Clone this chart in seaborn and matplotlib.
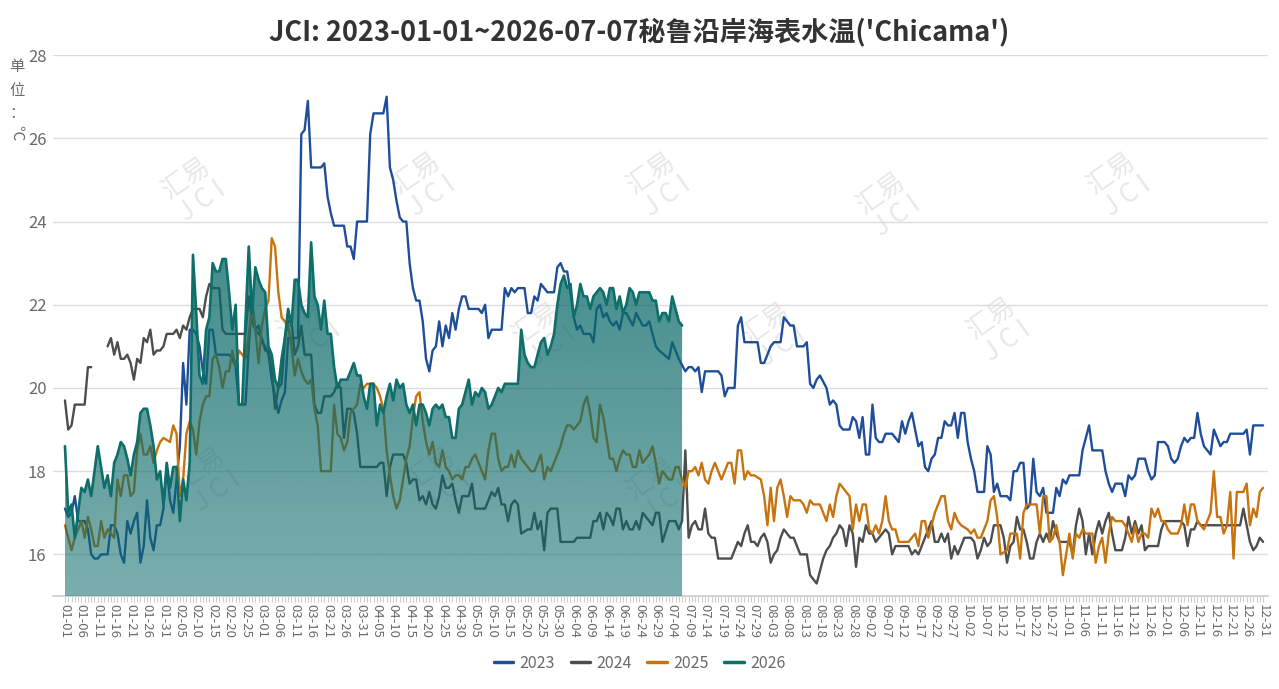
import numpy as np
import pandas as pd
import matplotlib
matplotlib.use("Agg")
import matplotlib.pyplot as plt
import seaborn as sns
from matplotlib.lines import Line2D

# ---------------- data ----------------
# x categories: month-day labels of a 366-day calendar (as in the source chart)
categories = pd.date_range("2024-01-01", "2024-12-31").strftime("%m-%d").tolist()
title = "JCI: 2023-01-01~2026-07-07秘鲁沿岸海表水温('Chicama')"
y_ticks = [16, 18, 20, 22, 24, 26, 28]
series_names = ["2023", "2024", "2025", "2026"]
series_colors = ["#1f4e99", "#4d4d4d", "#c7740e", "#0d6e6a"]

# (day on a 0..364 scale, value)
s2023 = [(0,17.1),(1,16.9),(2,17.0),(3,17.4),(4,16.8),(6,16.8),(7,16.6),(8,16.0),(9,15.9),(10,15.9),
 (11,16.0),(13,16.0),(14,16.7),(15,16.7),(16,16.5),(17,16.0),(18,15.8),(19,16.8),(20,16.5),(21,16.8),
 (22,17.0),(23,15.8),(24,16.2),(25,17.3),(26,16.4),(27,16.1),(28,16.7),(29,16.7),(30,17.1),(31,18.1),
 (32,17.3),(33,17.0),(34,17.8),(35,18.6),(36,20.6),(37,19.6),(38,21.4),(39,21.4),(40,21.3),(41,21.0),
 (42,20.4),(43,20.1),(44,21.4),(45,21.4),(46,20.8),(50,20.8),(51,20.7),(52,20.5),(53,19.6),(55,19.6),
 (56,21.0),(57,22.1),(58,21.4),(59,21.5),(60,21.1),(61,21.0),(62,20.8),(63,20.2),(64,19.8),(65,19.4),
 (66,19.7),(67,19.9),(68,21.2),(71,21.2),(72,26.1),(73,26.2),(74,26.9),(75,25.3),(78,25.3),(79,25.4),
 (80,24.6),(81,24.2),(82,23.9),(85,23.9),(86,23.4),(87,23.4),(88,23.1),(89,24.0),(92,24.0),(93,26.1),
 (94,26.6),(97,26.6),(98,27.0),(99,25.3),(100,25.0),(101,24.5),(102,24.1),(103,24.0),(104,24.0),(105,23.0),
 (106,22.4),(107,22.1),(108,22.1),(109,21.6),(110,20.7),(111,20.4),(112,20.9),(113,21.0),(114,21.6),(115,21.0),
 (116,21.5),(117,21.2),(118,21.8),(119,21.4),(120,21.9),(121,22.2),(122,22.2),(123,21.9),(126,21.9),(127,21.8),
 (128,22.0),(129,21.2),(130,21.4),(133,21.4),(134,22.4),(135,22.2),(136,22.4),(137,22.3),(138,22.4),(140,22.4),
 (141,21.8),(142,21.8),(143,22.2),(144,22.1),(145,22.5),(147,22.3),(149,22.3),(150,22.9),(151,23.0),(152,22.8),
 (153,22.8),(154,22.3),(155,21.7),(156,21.4),(157,21.5),(158,21.3),(160,21.3),(161,21.1),(162,21.9),(163,22.0),
 (164,21.7),(165,21.8),(166,21.6),(167,21.5),(168,21.6),(169,21.4),(170,21.8),(171,21.8),(173,21.5),(174,21.8),
 (176,21.5),(177,21.5),(178,21.6),(179,21.3),(180,21.0),(181,20.9),(183,20.7),(184,21.1),(185,20.9),(186,20.7),
 (188,20.4),(189,20.5),(190,20.5),(191,20.4),(192,20.5),(193,19.9),(194,20.4),(198,20.4),(199,20.3),(200,19.8),
 (201,20.0),(203,20.0),(204,21.5),(205,21.7),(206,21.1),(210,21.1),(211,20.6),(212,20.6),(213,20.8),(214,21.0),
 (215,21.1),(217,21.1),(218,21.7),(219,21.6),(220,21.5),(221,21.5),(222,21.0),(224,21.0),(225,21.1),(226,20.1),
 (227,20.0),(228,20.2),(229,20.3),(231,20.0),(232,19.6),(233,19.7),(234,19.6),(235,19.1),(236,19.0),(238,19.0),
 (239,19.3),(240,19.2),(241,18.8),(242,19.3),(243,18.4),(244,18.4),(245,19.6),(246,18.8),(247,18.7),(248,18.7),
 (249,18.9),(251,18.9),(252,18.8),(253,18.7),(254,19.2),(255,18.9),(256,19.2),(257,19.4),(258,19.0),(259,18.6),
 (260,18.7),(261,18.1),(262,18.0),(263,18.3),(264,18.4),(265,18.8),(266,18.8),(267,19.2),(268,19.1),(269,19.1),
 (270,19.4),(271,18.8),(272,19.4),(273,19.4),(274,18.7),(275,18.3),(276,18.0),(277,17.5),(279,17.5),(280,18.6),
 (281,18.4),(282,17.5),(283,17.7),(284,17.4),(286,17.4),(287,17.3),(288,18.0),(289,18.0),(290,18.2),(291,18.2),
 (292,17.1),(293,17.2),(294,18.3),(295,17.5),(296,17.4),(297,17.6),(298,17.0),(300,17.0),(301,17.6),(302,17.4),
 (303,17.8),(304,17.7),(305,17.9),(308,17.9),(309,18.5),(311,19.1),(312,18.5),(315,18.5),(316,18.0),(317,17.7),
 (318,17.5),(319,17.7),(321,17.7),(322,17.4),(323,17.9),(324,17.8),(325,17.9),(326,18.3),(328,18.3),(329,18.0),
 (330,17.8),(331,17.9),(332,18.7),(334,18.7),(335,18.6),(336,18.3),(337,18.2),(338,18.3),(339,18.6),(340,18.8),
 (341,18.7),(342,18.8),(343,18.8),(344,19.4),(345,18.9),(346,18.6),(347,18.5),(348,18.4),(349,19.0),(350,18.8),
 (351,18.6),(352,18.7),(353,18.7),(354,18.9),(358,18.9),(359,19.0),(360,18.4),(361,19.1),(364,19.1)]

s2024a = [(0,19.7),(1,19.0),(2,19.1),(3,19.6),(6,19.6),(7,20.5),(8,20.5)]
s2024b = [(13,21.0),(14,21.2),(15,20.8),(16,21.1),(17,20.7),(18,20.7),(19,20.8),(20,20.6),(21,20.2),(22,20.7),
 (23,20.6),(24,21.2),(25,21.1),(26,21.4),(27,20.8),(28,20.9),(29,20.9),(30,21.0),(31,21.3),(33,21.3),
 (34,21.4),(35,21.2),(36,21.5),(37,21.4),(38,21.7),(39,21.9),(41,21.9),(42,21.7),(43,22.2),(44,22.5),
 (45,22.4),(47,22.4),(48,21.4),(49,21.3),(55,21.3),(56,22.2),(57,21.6),(58,21.4),(60,21.2),(61,20.9),
 (62,20.9),(63,20.4),(64,19.5),(65,20.0),(66,20.1),(67,21.2),(68,21.6),(69,21.6),(70,20.8),(71,21.0),
 (72,21.5),(73,20.8),(75,20.8),(76,19.6),(77,19.4),(78,19.4),(79,19.8),(81,19.8),(82,19.9),(83,20.1),
 (84,20.0),(85,18.8),(86,19.5),(87,19.5),(88,19.4),(89,18.9),(90,18.1),(95,18.1),(96,18.2),(97,18.2),
 (98,17.4),(99,18.1),(100,18.4),(103,18.4),(104,18.2),(105,17.7),(106,17.8),(107,17.8),(108,17.3),(109,17.4),
 (110,17.2),(111,17.5),(112,17.2),(113,17.1),(114,17.4),(115,17.9),(116,17.6),(117,17.6),(118,17.7),(119,17.3),
 (120,17.0),(121,17.4),(123,17.4),(124,17.7),(125,17.1),(128,17.1),(129,17.3),(130,17.5),(131,17.4),(132,17.6),
 (133,17.2),(134,17.2),(135,16.8),(136,17.2),(137,17.3),(138,17.2),(139,16.5),(141,16.6),(142,16.6),(143,17.0),
 (144,16.6),(145,16.8),(146,16.1),(147,17.0),(148,17.1),(150,17.1),(151,16.3),(155,16.3),(156,16.4),(160,16.4),
 (161,16.8),(162,16.8),(163,17.0),(164,16.6),(165,17.0),(166,16.9),(167,16.7),(168,17.1),(169,17.1),(170,16.6),
 (171,16.8),(172,16.6),(173,16.6),(174,16.8),(175,16.6),(176,17.0),(177,16.9),(178,16.8),(179,16.7),(180,17.0),
 (181,17.0),(182,16.3),(183,16.8),(185,16.8),(186,16.6),(187,16.8),(188,18.5),(189,16.4),(190,16.7),(191,16.8),
 (192,16.6),(193,16.6),(194,17.1),(195,16.5),(196,16.4),(197,16.4),(198,15.9),(202,15.9),(203,16.1),(204,16.3),
 (205,16.2),(206,16.5),(207,16.7),(208,16.3),(209,16.3),(210,16.2),(211,16.4),(212,16.5),(213,16.3),(214,15.8),
 (215,16.0),(216,16.1),(217,16.4),(218,16.6),(219,16.5),(220,16.4),(221,16.4),(222,16.2),(223,16.0),(225,16.0),
 (226,15.5),(227,15.4),(228,15.3),(229,15.6),(230,15.9),(231,16.1),(232,16.2),(233,16.4),(234,16.5),(235,16.7),
 (236,16.6),(237,16.2),(238,16.7),(239,16.5),(240,15.7),(241,16.4),(242,16.3),(243,16.7),(244,16.5),(245,16.5),
 (246,16.3),(247,16.4),(248,16.5),(249,16.6),(250,16.5),(251,16.0),(252,16.2),(256,16.2),(257,16.0),(258,16.1),
 (259,16.0),(260,16.2),(261,16.4),(262,16.6),(263,16.8),(264,16.3),(265,16.3),(266,16.5),(267,16.3),(268,16.5),
 (269,15.9),(270,16.2),(271,16.0),(272,16.2),(273,16.4),(275,16.4),(276,16.3),(277,15.9),(278,16.1),(279,16.4),
 (280,16.2),(281,16.3),(282,16.7),(284,16.7),(285,16.4),(286,15.8),(287,16.2),(288,16.3),(289,16.9),(290,16.6),
 (291,16.6),(292,16.3),(293,15.9),(294,15.9),(295,16.3),(296,16.5),(297,16.3),(298,16.5),(299,16.3),(300,16.8),
 (301,16.5),(302,16.3),(305,16.3),(306,16.0),(307,16.7),(308,17.1),(309,16.8),(310,16.0),(311,16.5),(312,16.0),
 (313,16.5),(314,16.8),(315,16.5),(316,16.8),(317,17.0),(318,16.5),(319,16.1),(321,16.1),(322,16.4),(323,16.9),
 (324,16.5),(325,16.8),(326,16.5),(327,16.7),(328,16.1),(329,16.2),(332,16.2),(333,16.6),(334,16.8),(339,16.8),
 (340,16.7),(341,16.2),(342,16.6),(343,16.6),(344,16.8),(345,16.7),(357,16.7),(358,17.1),(359,16.7),(360,16.3),
 (361,16.1),(362,16.2),(363,16.4),(364,16.3)]

s2025 = [(0,16.7),(1,16.4),(2,16.1),(3,16.4),(4,16.6),(5,16.8),(6,16.4),(7,16.9),(8,16.6),(9,16.2),
 (10,16.2),(11,16.8),(12,16.4),(13,16.6),(14,16.5),(15,16.4),(16,17.8),(17,17.4),(18,17.9),(19,17.9),
 (20,17.4),(21,17.5),(22,18.5),(23,18.9),(24,18.4),(25,18.4),(26,18.6),(27,18.2),(28,18.5),(29,18.7),
 (30,18.8),(32,18.7),(33,19.1),(34,18.9),(35,17.4),(36,17.8),(37,18.9),(38,19.2),(39,19.0),(40,18.4),
 (41,19.2),(42,19.6),(43,19.8),(44,19.8),(45,20.7),(46,20.8),(47,20.5),(48,20.0),(49,20.4),(50,20.4),
 (51,20.9),(52,20.5),(53,20.9),(55,20.7),(57,21.9),(58,21.4),(59,20.6),(60,21.5),(61,21.9),(62,22.1),
 (63,23.6),(64,23.4),(65,22.3),(66,21.7),(67,21.6),(68,21.5),(69,21.0),(70,20.3),(71,20.7),(72,20.4),
 (73,20.2),(74,20.1),(75,20.2),(76,19.5),(77,19.1),(78,18.0),(81,18.0),(82,19.6),(83,18.9),(84,18.8),
 (85,18.5),(86,18.7),(87,19.4),(88,19.5),(89,19.6),(90,20.1),(91,20.0),(92,20.1),(94,20.1),(95,20.0),
 (96,19.8),(97,19.5),(98,18.5),(99,17.9),(100,17.4),(101,17.1),(102,17.3),(103,17.8),(104,18.3),(105,18.6),
 (106,19.3),(107,19.8),(108,19.9),(109,19.2),(110,18.7),(111,18.4),(112,18.7),(113,18.2),(114,18.1),(115,18.5),
 (116,18.1),(117,18.0),(118,17.8),(119,17.9),(120,17.9),(121,17.8),(122,18.1),(123,18.1),(124,18.3),(125,18.4),
 (126,18.2),(127,18.0),(128,17.8),(129,18.5),(130,18.9),(131,18.9),(132,18.3),(133,18.0),(134,18.1),(135,18.1),
 (136,18.4),(137,18.1),(138,18.5),(139,18.3),(140,18.2),(141,18.1),(142,18.0),(143,18.0),(144,18.2),(145,18.4),
 (146,17.8),(147,18.1),(148,18.0),(149,18.2),(150,18.4),(151,18.6),(152,18.9),(153,19.1),(154,19.1),(155,19.0),
 (156,19.1),(157,19.2),(158,19.6),(159,19.8),(160,19.4),(161,18.8),(162,18.7),(163,19.6),(164,19.3),(165,18.8),
 (166,18.3),(167,18.3),(168,18.0),(169,18.3),(170,18.5),(171,18.4),(172,18.4),(173,18.1),(174,18.1),(175,18.5),
 (176,18.2),(177,18.3),(178,18.4),(179,18.6),(180,18.2),(181,17.7),(182,18.0),(183,17.8),(184,17.8),(185,18.1),
 (186,18.1),(187,17.8),(188,17.6),(189,18.0),(190,18.0),(191,18.1),(192,17.9),(193,18.2),(194,17.8),(195,17.7),
 (196,18.0),(197,18.2),(198,18.0),(199,17.8),(200,18.0),(201,18.2),(202,18.2),(203,17.7),(204,18.5),(205,18.5),
 (206,17.8),(207,18.0),(208,17.9),(209,17.9),(211,17.8),(212,17.4),(213,16.7),(214,17.6),(215,16.8),(216,17.6),
 (217,17.8),(218,17.4),(219,16.9),(220,17.4),(221,17.3),(223,17.3),(224,17.2),(225,17.0),(226,17.3),(227,17.2),
 (229,17.2),(230,17.0),(231,16.8),(232,17.2),(233,16.9),(234,17.4),(235,17.7),(236,17.6),(237,17.5),(238,17.4),
 (239,16.6),(240,17.2),(241,16.8),(242,17.2),(243,17.2),(244,16.6),(245,16.5),(246,16.7),(247,16.5),(248,16.8),
 (249,17.4),(250,16.8),(251,16.6),(252,16.6),(253,16.3),(256,16.3),(258,16.5),(259,16.2),(260,16.8),(261,16.8),
 (262,16.4),(263,16.7),(264,17.0),(265,17.2),(266,17.4),(267,17.4),(268,16.8),(269,16.6),(270,17.0),(271,16.8),
 (272,16.7),(274,16.6),(275,16.5),(276,16.6),(277,16.4),(278,16.4),(279,16.6),(280,16.8),(281,17.3),(282,17.4),
 (283,16.9),(284,16.0),(286,16.1),(287,16.5),(289,16.5),(290,15.9),(291,17.0),(292,17.2),(295,17.2),(296,16.5),
 (297,17.4),(298,17.4),(299,16.3),(300,16.4),(301,16.7),(302,16.3),(303,15.5),(304,16.0),(305,16.5),(306,15.9),
 (307,16.5),(308,16.4),(309,16.6),(310,16.5),(312,16.5),(313,15.8),(314,16.2),(315,16.4),(316,15.8),(317,16.5),
 (318,16.9),(319,16.8),(321,16.8),(322,16.7),(323,16.5),(324,16.3),(325,16.7),(326,16.3),(327,16.5),(328,16.5),
 (329,16.4),(330,17.1),(331,16.9),(332,17.1),(333,16.8),(334,16.8),(335,16.6),(336,16.5),(338,16.5),(339,16.7),
 (340,17.2),(341,16.7),(342,17.2),(343,17.2),(344,16.8),(345,16.7),(346,16.6),(347,16.8),(348,17.0),(349,18.0),
 (350,16.9),(351,16.9),(352,16.5),(353,16.7),(354,17.5),(355,15.9),(356,17.5),(358,17.5),(359,17.7),(360,16.7),
 (361,17.1),(362,16.9),(363,17.5),(364,17.6)]

# 2026 daily values from 01-01 to 07-07 (189 days)
v2026 = [18.6,17.0,17.2,16.4,17.0,17.6,17.5,17.8,17.4,18.0,18.6,18.1,17.6,17.9,17.4,18.2,18.4,18.7,18.6,18.3,
 17.9,18.4,18.7,19.4,19.5,19.5,19.1,18.6,17.8,18.0,17.2,18.2,17.6,18.1,18.1,16.8,17.8,17.3,18.2,23.2,
 21.8,20.3,20.1,21.4,21.7,23.0,22.8,22.8,23.1,23.1,22.3,21.4,22.0,19.6,19.6,21.6,23.4,21.8,22.9,22.6,
 22.4,22.3,21.0,20.8,20.2,20.0,20.7,21.2,21.9,21.5,22.6,22.6,22.0,21.8,21.7,23.5,22.2,22.0,21.4,22.1,21.3,
 21.3,20.5,20.0,20.2,20.2,20.2,20.4,20.6,20.3,20.3,19.8,19.5,20.1,20.1,19.1,19.6,19.4,19.8,20.1,19.7,
 20.2,20.0,20.1,19.6,19.4,19.6,19.1,19.6,19.6,19.4,19.1,19.5,19.6,19.5,19.6,19.3,19.3,18.8,18.8,19.5,
 19.6,19.9,20.2,19.6,19.9,19.8,20.0,19.9,19.5,19.6,19.8,20.0,19.9,20.1,20.1,20.1,20.1,20.1,21.4,20.8,
 20.6,20.5,20.5,20.8,21.1,21.2,20.8,21.0,21.3,22.0,22.5,22.7,22.4,22.5,21.7,22.0,22.5,22.2,22.2,21.9,
 22.2,22.3,22.4,22.3,22.0,22.4,22.4,21.9,22.2,21.8,22.0,22.4,22.3,22.0,22.3,22.3,22.3,22.3,22.1,22.1,
 21.6,21.8,21.8,21.6,22.2,21.9,21.6,21.5]

# ---------------- plot ----------------
sns.set_theme(style="white")
plt.rcParams['font.family'] = ['Noto Sans CJK SC', 'DejaVu Sans']

fig = plt.figure(figsize=(12.79, 6.89), dpi=100)
ax = fig.add_axes([0.0418, 0.135, 0.9496, 0.785])

n_cat = len(categories)

def to_df(pairs):
    # map days read on a 0..364 scale onto the 366-category axis
    return pd.DataFrame({"day": [int(round(d * (n_cat - 1) / 364)) for d, _ in pairs],
                         "value": [v for _, v in pairs]})

# watermarks (under the data, so the area covers them partly)
for (xp, yp) in [(195, 190), (425, 185), (660, 185), (890, 205), (1120, 185), (310, 330), (545, 335),
                 (775, 335), (1000, 330), (210, 480), (440, 480), (660, 490)]:
    ax.text((xp - 53.5) / 1214.5, 1 - (yp - 55) / 541, "汇易\nJ C I", transform=ax.transAxes,
            ha='center', va='center', fontsize=19, color='#d6d6d6', alpha=0.55, rotation=35,
            linespacing=1.0, zorder=1)

lw = 1.7
for data, col in [(s2023, series_colors[0]), (s2024a, series_colors[1]), (s2024b, series_colors[1]),
                  (s2025, series_colors[2])]:
    df = to_df(data)
    sns.lineplot(data=df, x="day", y="value", ax=ax, color=col, lw=lw,
                 estimator=None, sort=False, legend=False, zorder=2)

df26 = pd.DataFrame({"day": np.arange(len(v2026)), "value": v2026})
ymin = 15
poly = ax.fill_between(df26["day"], df26["value"], ymin, facecolor='none', edgecolor='none')
base = np.array([10, 105, 105]) / 255.0
n = 256
grad = np.zeros((n, 1, 4))
grad[..., :3] = base
grad[:, 0, 3] = np.linspace(0.54, 0.77, n)
im = ax.imshow(grad, extent=(0, len(v2026) - 1, ymin, max(v2026)), origin='lower',
               aspect='auto', zorder=3, interpolation='bilinear')
im.set_clip_path(poly.get_paths()[0], transform=ax.transData)
sns.lineplot(data=df26, x="day", y="value", ax=ax, color=series_colors[3], lw=1.9,
             estimator=None, sort=False, legend=False, zorder=4)

ax.set_xlim(-3.5, n_cat + 0.5)
ax.set_ylim(15, 28)
ax.set_xlabel("")
ax.set_ylabel("")

ax.set_yticks(y_ticks)
ax.set_yticklabels([str(t) for t in y_ticks])
ax.yaxis.grid(True, color='#dddddd', lw=1)
ax.xaxis.grid(False)
ax.set_axisbelow(True)
for s in ["left", "right", "top"]:
    ax.spines[s].set_visible(False)
ax.spines["bottom"].set_color("#cccccc")
ax.spines["bottom"].set_linewidth(1.2)

major = list(range(0, n_cat, 5))
ax.set_xticks(major)
ax.set_xticklabels([categories[i] for i in major], rotation=270, fontsize=9.5, color="#6a6a6a")
ax.set_xticks(range(0, n_cat), minor=True)
ax.tick_params(axis='x', which='both', length=4, width=0.8, color='#cccccc', pad=2, bottom=True)
ax.tick_params(axis='y', which='both', length=0, labelsize=12, labelcolor='#6a6a6a', pad=5)

# title
fig.text(0.5, 1 - 32 / 689, title, ha='center', va='center', fontsize=19.5, fontweight='bold', color='#333333')

# vertical unit label
for ch, ypx, rot in [("单", 66, 0), ("位", 91, 0), ("：", 114, 0), ("℃", 133, 270)]:
    fig.text(17 / 1279, 1 - ypx / 689, ch, ha='center', va='center', fontsize=11, color='#6a6a6a', rotation=rot)

handles = [Line2D([0], [0], color=c, lw=2.5) for c in series_colors]
fig.legend(handles, series_names, loc='center', bbox_to_anchor=(0.5, 1 - 663 / 689), ncol=4,
           frameon=False, fontsize=11.5, labelcolor='#6a6a6a', handlelength=1.2, handletextpad=0.4,
           columnspacing=1.0)

fig.savefig("out.png", dpi=100)
